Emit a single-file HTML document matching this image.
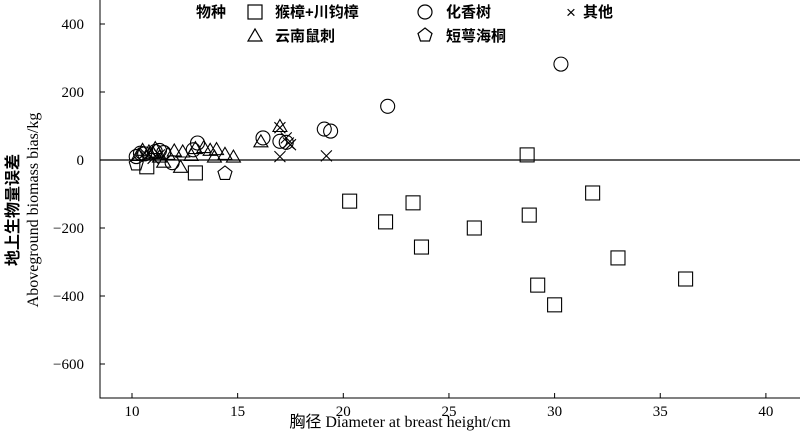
<!DOCTYPE html>
<html><head><meta charset="utf-8"><style>
body{margin:0;background:#fff}
svg text{font-family:"Liberation Serif","Noto Serif CJK SC",serif;fill:#000}
.cjk{font-family:"Liberation Sans","Noto Sans CJK SC",sans-serif !important}
</style></head><body>
<svg id="chart" width="800" height="433" xmlns="http://www.w3.org/2000/svg">
<g id="axes"></g>
<g id="marks"></g>
<g>
<text x="196" y="17" font-size="15" font-weight="bold" class="cjk">物种</text>
<rect x="248" y="5" width="14" height="14" fill="none" stroke="#000" stroke-width="1.2"/>
<text x="275" y="17" font-size="15" font-weight="bold" class="cjk">猴樟+川钧樟</text>
<circle cx="425" cy="12" r="7" fill="none" stroke="#000" stroke-width="1.2"/>
<text x="446" y="17" font-size="15" font-weight="bold" class="cjk">化香树</text>
<text x="566" y="18" font-size="17" class="cjk">×</text>
<text x="583" y="17" font-size="15" font-weight="bold" class="cjk">其他</text>
<path d="M248,41 L255,29 L262,41 Z" fill="none" stroke="#000" stroke-width="1.2"/>
<text x="275" y="41" font-size="15" font-weight="bold" class="cjk">云南鼠刺</text>
<path d="M425,28 L432,33.5 L429.5,41 L420.5,41 L418,33.5 Z" fill="none" stroke="#000" stroke-width="1.2"/>
<text x="446" y="41" font-size="15" font-weight="bold" class="cjk">短萼海桐</text>
</g>
<text x="400" y="427" font-size="16" text-anchor="middle"><tspan class="cjk">胸径</tspan> Diameter at breast height/cm</text>
<text transform="translate(18,210) rotate(-90)" font-size="16" text-anchor="middle" class="cjk" font-weight="bold">地上生物量误差</text>
<text transform="translate(38,210) rotate(-90)" font-size="16" text-anchor="middle">Aboveground biomass bias/kg</text>
</svg>
<script>
const xTicks=[10,15,20,25,30,35,40];
const yTicks=[400,200,0,-200,-400,-600];
const squareX=[10.7,13.0,20.3,22.0,23.3,23.7,26.2,28.7,28.8,29.2,30.0,31.8,33.0,36.2];
const squareY=[-20,-38,-121,-182,-126,-256,-200,15,-162,-368,-426,-97,-288,-350];
const circleX=[10.2,10.4,10.6,11.1,11.3,11.5,11.9,12.9,13.1,16.2,17.0,17.3,19.1,19.4,22.1,30.3];
const circleY=[10,20,18,25,28,22,-8,30,50,65,55,52,91,85,158,282];
const triX=[10.3,10.5,10.8,11.0,11.1,11.3,11.5,11.7,12.0,12.3,12.4,12.8,13.0,13.4,13.7,13.9,14.0,14.4,14.8,16.1,17.0];
const triY=[15,30,25,20,35,10,-5,18,28,-20,25,15,35,38,30,10,32,18,10,55,100];
const xMarkX=[10.6,11.0,11.3,17.0,17.3,17.4,17.5,17.0,19.2];
const xMarkY=[20,5,15,95,65,50,45,10,12];
const pentX=[10.2,14.4];
const pentY=[-10,-38];
const sx=v=>132+(v-10)*21.13;
const sy=v=>160-v*0.34;
const NS="http://www.w3.org/2000/svg";
const ax=document.getElementById('axes'),mk=document.getElementById('marks');
function el(t,a,p){const e=document.createElementNS(NS,t);for(const k in a)e.setAttribute(k,a[k]);p.appendChild(e);return e;}
let frame=el('path',{d:'M100,0 V398 H800',fill:'none',stroke:'#000','stroke-width':1},ax);


let zl=el('line',{x1:100,x2:800,y1:sy(0),y2:sy(0),stroke:'#000','stroke-width':1.2},ax);


xTicks.forEach(v=>{
 let t=el('line',{x1:sx(v),x2:sx(v),y1:398,y2:393,stroke:'#000'},ax);
 
 
 let l=el('text',{x:sx(v),y:416,'font-size':15,'text-anchor':'middle'},ax);l.textContent=v;
 
 
});
yTicks.forEach(v=>{
 let t=el('line',{x1:100,x2:105,y1:sy(v),y2:sy(v),stroke:'#000'},ax);
 
 
 let l=el('text',{x:84,y:sy(v)+5,'font-size':15,'text-anchor':'end'},ax);l.textContent=(v<0?'\u2212'+(-v):v);
 
 
});
const st={fill:'none',stroke:'#000','stroke-width':1.1};
squareX.forEach((v,i)=>{let e=el('rect',Object.assign({x:sx(v)-7,y:sy(squareY[i])-7,width:14,height:14},st),mk);
 
 });
circleX.forEach((v,i)=>{let e=el('circle',Object.assign({cx:sx(v),cy:sy(circleY[i]),r:7},st),mk);
 
 });
triX.forEach((v,i)=>{const x=sx(v),y=sy(triY[i]);let e=el('path',Object.assign({d:`M${x-7},${y+5.5} L${x},${y-6.5} L${x+7},${y+5.5} Z`},st),mk);
 
 });
xMarkX.forEach((v,i)=>{const x=sx(v),y=sy(xMarkY[i]);let e=el('path',Object.assign({d:`M${x-5.5},${y-5.5} L${x+5.5},${y+5.5} M${x-5.5},${y+5.5} L${x+5.5},${y-5.5}`},st),mk);
 
 });
pentX.forEach((v,i)=>{const x=sx(v),y=sy(pentY[i]);let e=el('path',Object.assign({d:`M${x},${y-7} L${x+7},${y-1.5} L${x+4.5},${y+6.5} L${x-4.5},${y+6.5} L${x-7},${y-1.5} Z`},st),mk);
 
 });
</script>
</body></html>
